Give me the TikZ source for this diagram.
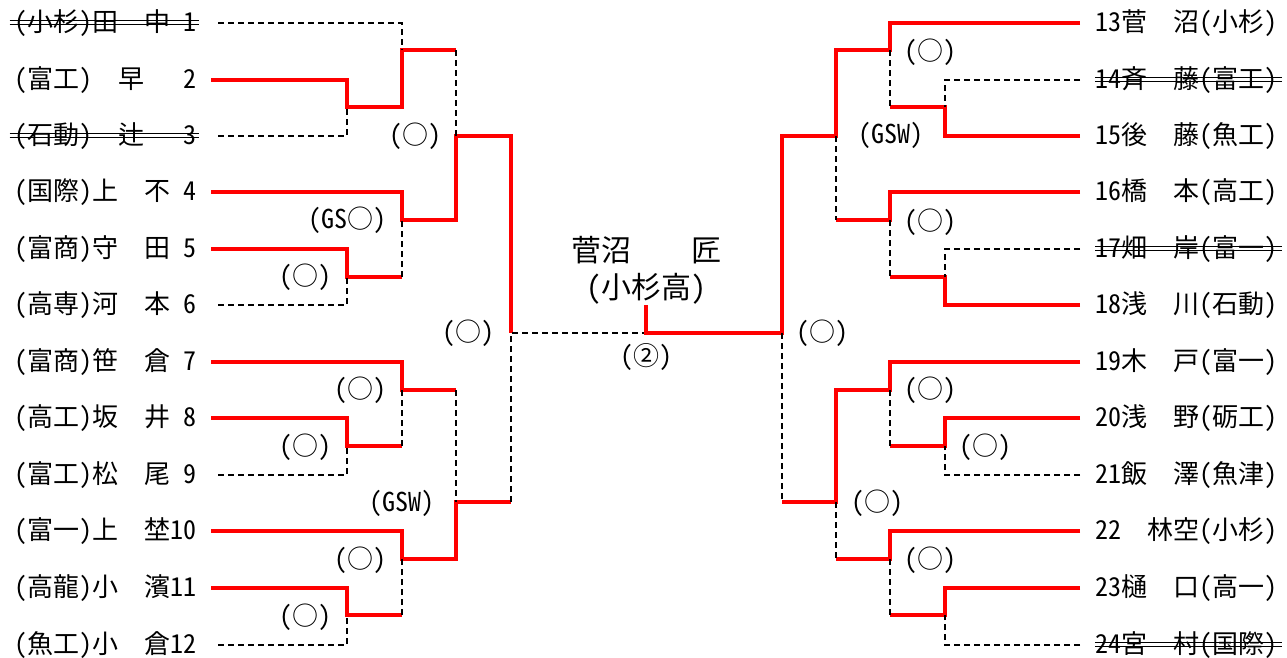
\documentclass[tikz,border=0pt]{standalone}
\usepackage{fontspec}
\setmainfont{Noto Sans CJK JP}[RawFeature=+hwid]
\newcommand{\zen}{\hspace*{1em}}

\begin{document}
\begin{tikzpicture}[x=1pt,y=-1pt,
  won/.style={red,line width=4pt},
  lost/.style={black,line width=1.5pt,dash pattern=on 6pt off 4pt},
  strike/.style={black,line width=1.5pt},
  lname/.style={anchor=east,inner xsep=14pt,inner ysep=0pt,font=\fontsize{26}{30}\selectfont},
  rname/.style={anchor=west,inner xsep=15pt,inner ysep=0pt,font=\fontsize{26}{30}\selectfont},
  lbl/.style={inner sep=0pt,font=\fontsize{26}{30}\selectfont}]
  \useasboundingbox (0,0) rectangle (1287,657);

  \node[lname] (p1) at (211,23) {(小杉)田\zen 中 1};
  \node[lname] (p2) at (211,80) {(富工)\zen 早\zen\ 2};
  \node[lname] (p3) at (211,136) {(石動)\zen 辻\zen\ 3};
  \node[lname] (p4) at (211,192) {(国際)上\zen 不 4};
  \node[lname] (p5) at (211,249) {(富商)守\zen 田 5};
  \node[lname] (p6) at (211,305) {(高専)河\zen 本 6};
  \node[lname] (p7) at (211,362) {(富商)笹\zen 倉 7};
  \node[lname] (p8) at (211,418) {(高工)坂\zen 井 8};
  \node[lname] (p9) at (211,475) {(富工)松\zen 尾 9};
  \node[lname] (p10) at (211,531) {(富一)上\zen 埜10};
  \node[lname] (p11) at (211,588) {(高龍)小\zen 濱11};
  \node[lname] (p12) at (211,645) {(魚工)小\zen 倉12};

  \node[rname] (p13) at (1080,23) {13菅\zen 沼(小杉)};
  \node[rname] (p14) at (1080,80) {14斉\zen 藤(富工)};
  \node[rname] (p15) at (1080,136) {15後\zen 藤(魚工)};
  \node[rname] (p16) at (1080,192) {16橋\zen 本(高工)};
  \node[rname] (p17) at (1080,249) {17畑\zen 岸(富一)};
  \node[rname] (p18) at (1080,305) {18浅\zen 川(石動)};
  \node[rname] (p19) at (1080,362) {19木\zen 戸(富一)};
  \node[rname] (p20) at (1080,418) {20浅\zen 野(砺工)};
  \node[rname] (p21) at (1080,475) {21飯\zen 澤(魚津)};
  \node[rname] (p22) at (1080,531) {22\zen 林空(小杉)};
  \node[rname] (p23) at (1080,588) {23樋\zen 口(高一)};
  \node[rname] (p24) at (1080,645) {24宮\zen 村(国際)};

  \foreach \p in {p1,p3}{
    \draw[strike] ([xshift=9pt,yshift=2.5pt]\p.west) -- ([xshift=-12pt,yshift=2.5pt]\p.east);
    \draw[strike] ([xshift=9pt,yshift=-1.5pt]\p.west) -- ([xshift=-12pt,yshift=-1.5pt]\p.east);
  }
  \foreach \p in {p14,p17,p24}{
    \draw[strike] ([xshift=15pt,yshift=2.5pt]\p.west) -- ([xshift=-10pt,yshift=2.5pt]\p.east);
    \draw[strike] ([xshift=15pt,yshift=-1.5pt]\p.west) -- ([xshift=-10pt,yshift=-1.5pt]\p.east);
  }

  \node[anchor=south,inner sep=0pt,align=center,font=\fontsize{30}{37}\selectfont] (champ) at (646,305) {菅沼\zen\zen 匠\\(小杉高)};

  \draw[won] (p2.east) -| (347,107) -| (402,50) -- (456,50);
  \draw[won] (p4.east) -| (402,220) -| (456,136) -| (511,333);
  \draw[won] (p5.east) -| (347,277) -- (402,277);
  \draw[won] (p7.east) -| (402,390) -- (456,390);
  \draw[won] (p8.east) -| (347,446) -- (402,446);
  \draw[won] (p10.east) -| (402,559) -| (456,502) -- (511,502);
  \draw[won] (p11.east) -| (347,615) -- (402,615);

  \draw[lost] ([xshift=7pt]p1.east) -| (402,50);
  \draw[lost] ([xshift=7pt]p3.east) -| (347,107);
  \draw[lost] ([xshift=7pt]p6.east) -| (347,277);
  \draw[lost] (402,277) -- (402,220);
  \draw[lost] (456,50) -- (456,136);
  \draw[lost] ([xshift=7pt]p9.east) -| (347,446);
  \draw[lost] (402,446) -- (402,390);
  \draw[lost] (456,390) -- (456,502);
  \draw[lost] ([xshift=7pt]p12.east) -| (347,615);
  \draw[lost] (402,615) -- (402,559);
  \draw[lost] (511,502) -- (511,333) -- (646,333);

  \draw[won] (p13.west) -| (890,50) -| (836,136) -| (782,333) -| (champ.south);
  \draw[won] (p15.west) -| (945,107) -- (890,107);
  \draw[won] (p16.west) -| (890,220) -- (836,220);
  \draw[won] (p18.west) -| (945,277) -- (890,277);
  \draw[won] (p19.west) -| (890,390) -| (836,502) -- (782,502);
  \draw[won] (p20.west) -| (945,446) -- (890,446);
  \draw[won] (p22.west) -| (890,559) -- (836,559);
  \draw[won] (p23.west) -| (945,615) -- (890,615);

  \draw[lost] (890,50) -- (890,107);
  \draw[lost] (p14.west) -| (945,107);
  \draw[lost] (836,136) -- (836,220);
  \draw[lost] (890,220) -- (890,277);
  \draw[lost] (p17.west) -| (945,277);
  \draw[lost] (782,333) -- (782,502);
  \draw[lost] (890,390) -- (890,446);
  \draw[lost] (p21.west) -| (945,446);
  \draw[lost] (836,502) -- (836,559);
  \draw[lost] (890,559) -- (890,615);
  \draw[lost] (p24.west) -| (945,615);

  \node[lbl] (m1) at (415,136) {(○)};
  \node[lbl] (m2) at (347,220) {(GS○)};
  \node[lbl] (m3) at (305,277) {(○)};
  \node[lbl] (m4) at (468,333) {(○)};
  \node[lbl] (m5) at (360,390) {(○)};
  \node[lbl] (m6) at (305,447) {(○)};
  \node[lbl] (m7) at (402,503) {(GSW)};
  \node[lbl] (m8) at (360,560) {(○)};
  \node[lbl] (m9) at (305,617) {(○)};
  \node[lbl] (m10) at (930,52) {(○)};
  \node[lbl] (m11) at (891,135) {(GSW)};
  \node[lbl] (m12) at (930,222) {(○)};
  \node[lbl] (m13) at (822,333) {(○)};
  \node[lbl] (m14) at (930,390) {(○)};
  \node[lbl] (m15) at (985,447) {(○)};
  \node[lbl] (m16) at (877,503) {(○)};
  \node[lbl] (m17) at (930,560) {(○)};
  \node[lbl] (m18) at (646,357) {(②)};
\end{tikzpicture}
\end{document}
